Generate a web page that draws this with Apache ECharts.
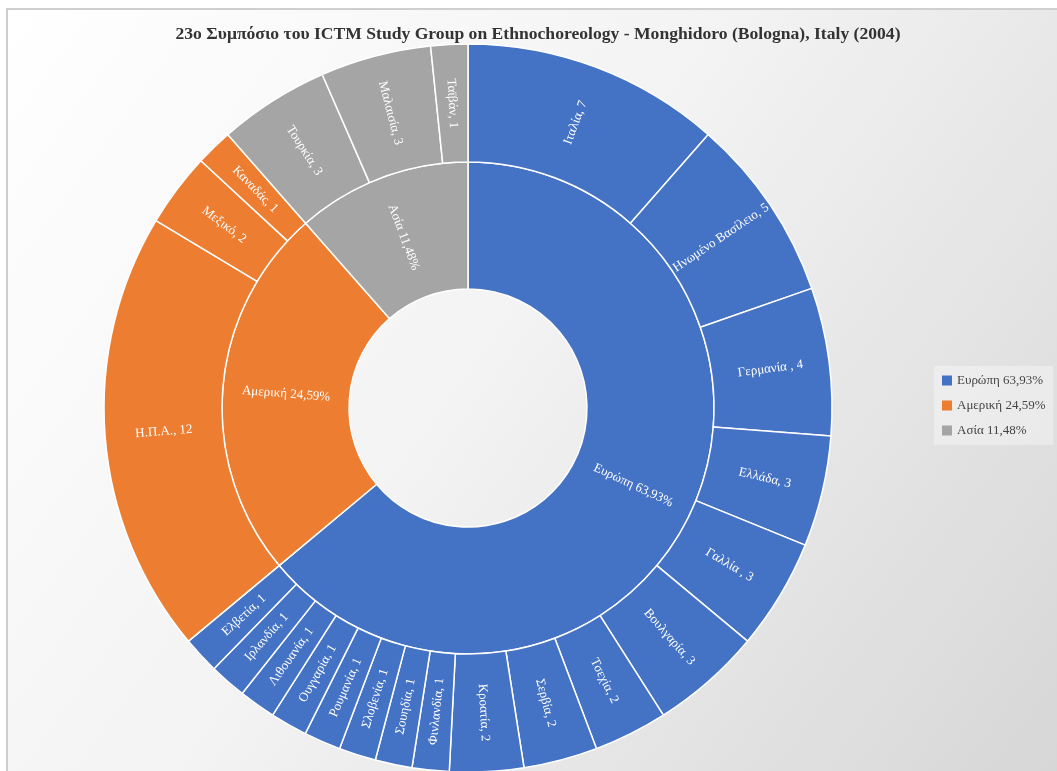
<!DOCTYPE html>
<html>
<head>
	<meta charset="utf-8" />
	<script src="https://cdn.jsdelivr.net/npm/echarts@6/dist/echarts.min.js"></script>
	<style>
		body { margin: 0; background: #ffffff; overflow: hidden; }
		#main { position: absolute; left: 6px; top: 8px; width: 1060px; height: 770px; border-left: 2px solid #cfcfcf; border-top: 2px solid #cfcfcf; }
	</style>
</head>
<body>
<div id="main"></div>
<script type="text/javascript">
	// continents (inner ring)
	var continents = ['Ευρώπη', 'Αμερική', 'Ασία'];
	var colors = ['#4472C4', '#ED7D31', '#A5A5A5'];

	// countries (outer ring) with number of participants
	var europeNames = ['Ιταλία', 'Ηνωμένο Βασίλειο', 'Γερμανία ', 'Ελλάδα', 'Γαλλία ', 'Βουλγαρία', 'Τσεχία', 'Σερβία', 'Κροατία',
		'Φινλανδία', 'Σουηδία', 'Σλοβενία', 'Ρουμανία', 'Ουγγαρία', 'Λιθουανία', 'Ιρλανδία', 'Ελβετία'];
	var europeValues = [7, 5, 4, 3, 3, 3, 2, 2, 2, 1, 1, 1, 1, 1, 1, 1, 1];
	var americaNames = ['Η.Π.Α.', 'Μεξικό', 'Καναδάς'];
	var americaValues = [12, 2, 1];
	var asiaNames = ['Τουρκία', 'Μαλαισία', 'Ταϊβάν'];
	var asiaValues = [3, 3, 1];

	var groups = [[europeNames, europeValues], [americaNames, americaValues], [asiaNames, asiaValues]];

	var sum = function (a) { return a.reduce(function (s, v) { return s + v; }, 0); };
	var total = 0;
	groups.forEach(function (g) { total += sum(g[1]); });

	var legendNames = [];
	var data = groups.map(function (g, i) {
		var pct = (sum(g[1]) / total * 100).toFixed(2).replace('.', ',');
		var name = continents[i] + ' ' + pct + '%';
		legendNames.push(name);
		return {
			name: name,
			itemStyle: { color: colors[i] },
			children: g[0].map(function (n, j) {
				return { name: n, value: g[1][j], itemStyle: { color: colors[i] } };
			})
		};
	});

	var myChart = echarts.init(document.getElementById('main'));

	var option = {
		backgroundColor: {
			type: 'linear', x: 0, y: 0, x2: 1, y2: 1,
			colorStops: [{ offset: 0, color: '#ffffff' }, { offset: 0.45, color: '#f3f3f3' }, { offset: 1, color: '#d6d6d6' }]
		},
		title: {
			text: '23ο Συμπόσιο του ICTM Study Group on Ethnochoreology - Monghidoro (Bologna), Italy (2004)',
			left: 'center',
			top: 10,
			textStyle: { fontFamily: 'Liberation Serif', fontSize: 17.6, fontWeight: 'bold', color: '#333333' }
		},
		legend: {
			orient: 'vertical',
			left: 926,
			top: 356,
			data: legendNames,
			icon: 'rect',
			itemWidth: 10,
			itemHeight: 10,
			itemGap: 12,
			padding: [8, 8, 8, 8],
			backgroundColor: 'rgba(255,255,255,0.35)',
			textStyle: { fontFamily: 'Liberation Serif', fontSize: 13, color: '#444444' }
		},
		series: [{
			type: 'pie',
			radius: [0, 0],
			silent: true,
			label: { show: false },
			labelLine: { show: false },
			color: colors,
			data: legendNames.map(function (n) { return { name: n, value: 0 }; })
		}, {
			type: 'sunburst',
			center: [460, 398],
			radius: [119, 364],
			sort: null,
			startAngle: 90,
			data: data,
			itemStyle: { borderColor: '#ffffff', borderWidth: 1.5 },
			label: {
				rotate: 'radial',
				color: '#ffffff',
				fontFamily: 'Liberation Serif',
				fontSize: 13
			},
			levels: [{}, {
				r0: 119, r: 246,
				label: { formatter: '{b}' }
			}, {
				r0: 246, r: 364,
				label: { formatter: '{b}, {c}' }
			}]
		}]
	};

	myChart.setOption(option);
</script>
</body>
</html>
